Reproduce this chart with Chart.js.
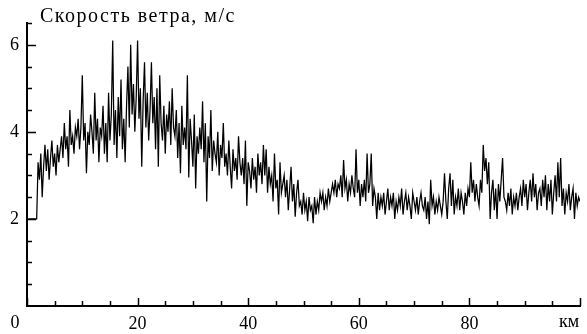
<!DOCTYPE html>
<html>
<head>
<meta charset="utf-8">
<script src="https://cdn.jsdelivr.net/npm/chart.js@4/dist/chart.umd.min.js"></script>
<style>
  html, body { margin: 0; padding: 0; background: #fff; }
  #wrap { width: 587px; height: 334px; }
</style>
</head>
<body>
<div id="wrap"><canvas id="wind"></canvas></div>
<script>
// ---------- data: wind speed (m/s), one block per 10 km, a sample every 0.25 km ----------
const kmStep = 0.25;
const speed00 = [2, 2, 2, 2, 2, 2, 2, 3.3, 2.9, 3.5, 2.5, 3.2, 3.7, 3.1, 3.6, 2.9, 3.4, 3.8, 3.2, 3.5,
  3.0, 3.7, 3.3, 3.6, 3.9, 3.4, 4.2, 3.6, 3.9, 3.2, 4.5, 3.7, 3.9, 3.5, 4.1, 3.9, 4.3, 3.6, 4.1, 5.3];
const speed10 = [3.8, 4.2, 3.05, 4.0, 3.7, 4.4, 4.0, 3.5, 4.9, 3.8, 4.3, 3.3, 4.1, 3.9, 4.6, 3.5, 4.2, 3.3, 4.9, 3.8,
  4.4, 6.1, 3.7, 4.5, 3.4, 4.8, 3.9, 5.2, 3.6, 4.3, 3.3, 4.6, 5.5, 4.1, 6.0, 4.4, 5.1, 4.0, 4.8, 6.1];
const speed20 = [4.3, 5.0, 3.2, 4.7, 5.6, 4.1, 4.9, 3.8, 4.5, 5.6, 4.2, 4.8, 3.6, 5.0, 3.2, 5.3, 4.2, 3.8, 4.6, 3.5,
  4.4, 4.0, 4.7, 3.7, 5.0, 4.1, 3.9, 4.5, 3.4, 4.2, 3.05, 4.6, 3.7, 4.1, 3.6, 5.3, 2.95, 4.3, 3.8, 3.2];
const speed30 = [4.4, 2.7, 3.9, 3.5, 4.1, 3.6, 4.7, 3.3, 4.2, 2.4, 3.9, 3.4, 4.5, 3.1, 3.8, 3.5, 3.3, 4.0, 3.0, 3.7,
  3.4, 4.2, 3.2, 3.5, 3.0, 3.8, 3.2, 2.7, 3.6, 3.1, 3.4, 2.9, 3.9, 3.3, 3.0, 3.4, 2.8, 3.8, 2.3, 3.3];
const speed40 = [3.1, 2.7, 3.4, 2.9, 3.2, 2.6, 3.5, 3.0, 3.3, 2.8, 3.7, 3.0, 3.6, 2.6, 3.2, 2.8, 3.0, 2.4, 3.5, 2.7,
  2.9, 2.1, 3.3, 2.6, 2.8, 3.0, 2.5, 2.9, 2.2, 2.7, 3.2, 2.4, 2.8, 2.05, 2.6, 2.9, 2.3, 2.4, 2.1, 2.6];
const speed50 = [2.2, 2.4, 1.95, 2.5, 2.2, 2.3, 1.9, 2.5, 2.1, 2.4, 2.2, 2.6, 2.4, 2.6, 2.2, 2.5, 2.3, 2.7, 2.4, 2.6,
  2.8, 2.6, 2.9, 2.5, 2.8, 2.7, 3.0, 2.5, 3.35, 2.7, 2.9, 2.4, 2.8, 2.6, 3.0, 2.7, 2.5, 3.6, 2.6, 2.9];
const speed60 = [2.3, 2.8, 2.5, 2.9, 2.4, 3.5, 2.6, 2.8, 3.5, 2.3, 2.7, 2.5, 2.0, 2.6, 2.2, 2.5, 2.3, 2.6, 2.1, 2.4,
  2.7, 2.2, 2.5, 2.3, 2.6, 2.0, 2.4, 2.2, 2.5, 2.3, 2.7, 2.1, 2.4, 2.6, 2.2, 2.5, 2.3, 2.0, 2.6, 2.4];
const speed70 = [2.2, 2.5, 2.1, 2.4, 2.6, 2.3, 2.2, 2.5, 2.0, 2.4, 1.88, 2.9, 2.3, 2.5, 2.1, 2.4, 2.2, 2.5, 2.3, 2.1,
  2.4, 3.05, 2.4, 2.0, 2.7, 3.05, 2.3, 2.9, 2.1, 2.5, 2.3, 2.7, 2.2, 2.6, 2.4, 2.1, 2.6, 2.3, 2.7, 2.5];
const speed80 = [3.3, 2.6, 2.9, 2.4, 2.8, 2.5, 2.3, 2.9, 2.6, 3.7, 3.1, 3.4, 2.8, 3.3, 2.0, 2.6, 2.9, 2.2, 2.7, 2.0,
  2.8, 2.4, 2.9, 3.4, 2.5, 2.4, 2.2, 2.6, 2.3, 2.7, 2.1, 2.5, 2.3, 2.6, 2.2, 2.5, 2.7, 2.3, 2.9, 2.5];
const speed90 = [2.8, 2.2, 2.6, 2.9, 2.4, 3.05, 2.5, 2.8, 2.2, 2.6, 2.7, 2.3, 2.9, 2.5, 3.0, 2.2, 2.8, 2.4, 2.9, 2.1,
  2.6, 3.0, 2.4, 3.3, 2.5, 3.4, 2.3, 2.7, 2.1, 2.6, 2.4, 2.8, 2.2, 2.5, 2.7, 2.0, 2.6, 2.3, 2.5, 2.4];
const speedBlocks = [speed00, speed10, speed20, speed30, speed40, speed50, speed60, speed70, speed80, speed90];

// ---------- axes ----------
const xTicks = [0, 20, 40, 60, 80, 100];
const xTickLabels = ['', '20', '40', '60', '80', ''];
const xMinorTicks = [5, 10, 15, 25, 30, 35, 45, 50, 55, 65, 70, 75, 85, 90, 95];
const yTicks = [2, 4, 6];
const yTickLabels = ['2', '4', '6'];
const yMinorTicks = [0.5, 1, 1.5, 2.5, 3, 3.5, 4.5, 5, 5.5, 6.5];
const titleText = 'Скорость ветра, м/с';
const xUnit = 'км';

const points = [];
speedBlocks.forEach((block, b) => {
  block.forEach((v, i) => points.push({ x: b * 10 + kmStep * (i + 1), y: v }));
});

const serif = '"Liberation Serif", "DejaVu Serif", serif';

// inward tick marks + corner texts
const decor = {
  id: 'decor',
  afterDraw(chart) {
    const c = chart.ctx;
    const xs = chart.scales.x, ys = chart.scales.y;
    const left = ys.right, bottom = xs.top;
    c.save();
    c.strokeStyle = '#000';
    c.lineWidth = 1.5;
    c.beginPath();
    yTicks.forEach(v => { const p = Math.round(ys.getPixelForValue(v)) + 0.5; c.moveTo(left, p); c.lineTo(left + 9, p); });
    yMinorTicks.forEach(v => { const p = Math.round(ys.getPixelForValue(v)) + 0.5; c.moveTo(left, p); c.lineTo(left + 5, p); });
    xTicks.forEach(v => { const p = Math.round(xs.getPixelForValue(v)) + 0.5; c.moveTo(p, bottom); c.lineTo(p, bottom - 8); });
    xMinorTicks.forEach(v => { const p = Math.round(xs.getPixelForValue(v)) + 0.5; c.moveTo(p, bottom); c.lineTo(p, bottom - 5); });
    c.stroke();

    c.fillStyle = '#000';
    c.font = '18px ' + serif;
    c.textBaseline = 'middle';
    c.textAlign = 'center';
    c.fillText('0', 15, 323);
    c.fillText(xUnit, 569, 322);
    c.textAlign = 'left';
    c.font = '20px ' + serif;
    c.letterSpacing = '1.5px';
    c.fillText(titleText, 40, 17);
    c.restore();
  }
};

const chart = new Chart(document.getElementById('wind'), {
  type: 'line',
  data: {
    datasets: [{
      data: points,
      borderColor: '#000',
      borderWidth: 1.25,
      pointRadius: 0,
      tension: 0,
      fill: false
    }]
  },
  options: {
    animation: false,
    responsive: true,
    maintainAspectRatio: false,
    layout: { padding: { top: 23, right: 6, left: 0, bottom: 0 } },
    plugins: { legend: { display: false }, tooltip: { enabled: false } },
    scales: {
      x: {
        type: 'linear',
        min: 0,
        max: 100,
        afterBuildTicks: (s) => { s.ticks = xTicks.map(v => ({ value: v })); },
        afterFit: (s) => { s.height = 28; },
        grid: { display: false, drawTicks: false },
        border: { display: true, color: '#000', width: 2 },
        ticks: {
          autoSkip: false,
          maxRotation: 0,
          padding: 7,
          color: '#000',
          font: { family: serif, size: 18 },
          callback: (v) => xTickLabels[xTicks.indexOf(v)]
        }
      },
      y: {
        min: 0,
        max: 6.5,
        afterBuildTicks: (s) => { s.ticks = yTicks.map(v => ({ value: v })); },
        afterFit: (s) => { s.width = 27; },
        grid: { display: false, drawTicks: false },
        border: { display: true, color: '#000', width: 2 },
        ticks: {
          padding: 8,
          color: '#000',
          font: { family: serif, size: 18 },
          callback: (v) => yTickLabels[yTicks.indexOf(v)]
        }
      }
    }
  },
  plugins: [decor]
});
</script>
</body>
</html>
